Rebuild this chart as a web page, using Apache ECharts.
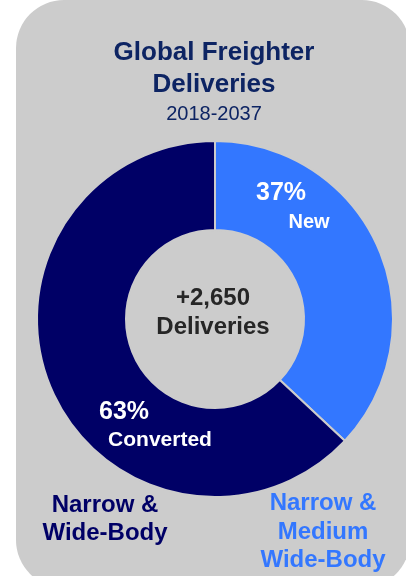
<!DOCTYPE html>
<html>
<head>
<meta charset="utf-8">
<script src="https://cdn.jsdelivr.net/npm/echarts@6/dist/echarts.min.js"></script>
<style>
  html, body { margin: 0; padding: 0; background: #ffffff; }
  #chart { width: 406px; height: 576px; }
</style>
</head>
<body>
<div id="chart"></div>
<script>
// Freighter delivery split, 2018-2037
const segments = ['New', 'Converted'];
const shares = [37, 63];
const totalDeliveries = '+2,650';
const segmentColors = ['#3377ff', '#000066'];
const bodyTypes = [['Narrow &', 'Medium', 'Wide-Body'], ['Narrow &', 'Wide-Body']];

const FONT = '"Liberation Sans", Arial, Helvetica, sans-serif';
const chart = echarts.init(document.getElementById('chart'), null, { renderer: 'canvas' });

function txt(x, y, text, size, color, weight, lh) {
  return {
    type: 'text', x: x, y: y, z: 100,
    style: {
      text: text, fill: color, font: (weight || 'bold') + ' ' + size + 'px ' + FONT,
      align: 'center', verticalAlign: 'middle', lineHeight: lh || size
    }
  };
}

const pieData = segments.map((name, i) => ({
  name: name, value: shares[i], itemStyle: { color: segmentColors[i] }
}));

chart.setOption({
  animation: false,
  backgroundColor: '#ffffff',
  series: [{
    type: 'pie',
    center: [215, 319],
    radius: [89, 178],
    startAngle: 90,
    clockwise: true,
    silent: true,
    label: { show: false },
    labelLine: { show: false },
    itemStyle: { borderColor: '#cccccc', borderWidth: 2 },
    data: pieData
  }],
  graphic: [
    { type: 'rect', z: -10, shape: { x: 16, y: 0, width: 394, height: 588, r: 48 }, style: { fill: '#cccccc' } },
    txt(214, 53, 'Global Freighter', 26, '#0d2463'),
    txt(214, 85, 'Deliveries', 26, '#0d2463'),
    txt(214, 114, '2018-2037', 20, '#0d2463', 'normal'),
    txt(281, 193, shares[0] + '%', 25, '#ffffff'),
    txt(309, 222, segments[0], 20, '#ffffff'),
    txt(124, 412, shares[1] + '%', 25, '#ffffff'),
    txt(160, 440, segments[1], 21, '#ffffff'),
    txt(213, 298, totalDeliveries, 24, '#262626'),
    txt(213, 327, 'Deliveries', 24, '#262626'),
    txt(105, 519, bodyTypes[1].join('\n'), 24, segmentColors[1], 'bold', 28),
    txt(323, 532, bodyTypes[0].join('\n'), 24, segmentColors[0], 'bold', 28.5)
  ]
});
</script>
</body>
</html>
